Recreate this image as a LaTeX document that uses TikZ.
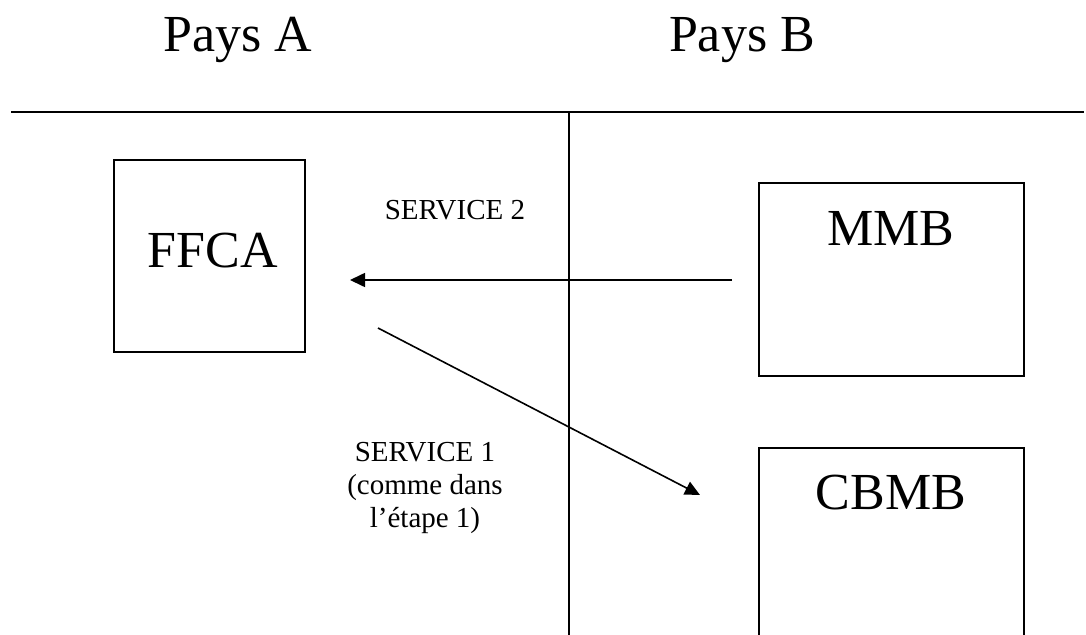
\documentclass[tikz,border=0pt]{standalone}
\usepackage{fontspec}
\setmainfont{Liberation Serif}
\usetikzlibrary{arrows.meta}
\tikzset{
  big/.style={font=\fontsize{52}{60}\selectfont, inner sep=0pt, anchor=base},
  small/.style={font=\fontsize{29}{33}\selectfont, inner sep=0pt, anchor=base, align=center},
  rule/.style={line width=1.8pt},
  box/.style={line width=1.8pt},
  conn/.style={line width=1.6pt, -{Triangle[length=15pt,width=14pt]}}
}
\begin{document}
\begin{tikzpicture}[x=1pt,y=-1pt]
\useasboundingbox (0,0) rectangle (1086,634);
% headers
\node[big] (paysA) at (238,52) {Pays A};
\node[big] (paysB) at (742,52) {Pays B};
% dividers
\draw[rule] (11,112) -- (1084,112);
\draw[rule] (569,112) -- (569,640);
% boxes
\draw[box] (114,160) rectangle (305,352);
\draw[box] (759,183) rectangle (1024,376);
\draw[box] (759,640) -- (759,448) -- (1024,448) -- (1024,640);
\node[big] (ffca) at (213,267) {FFCA};
\node[big] (mmb) at (891,245) {MMB};
\node[big] (cbmb) at (891,509) {CBMB};
% labels
\node[small] (s2) at (455,219) {SERVICE 2};
\node[small] (s1) at (425,527) {SERVICE 1\\(comme dans\\l’étape 1)};
% connectors
\coordinate (s2from) at (732,280);
\coordinate (s2to) at (350,280);
\coordinate (s1from) at (378,328);
\coordinate (s1to) at (700,495);
\draw[conn] (s2from) -- (s2to);
\draw[conn] (s1from) -- (s1to);
\end{tikzpicture}
\end{document}
